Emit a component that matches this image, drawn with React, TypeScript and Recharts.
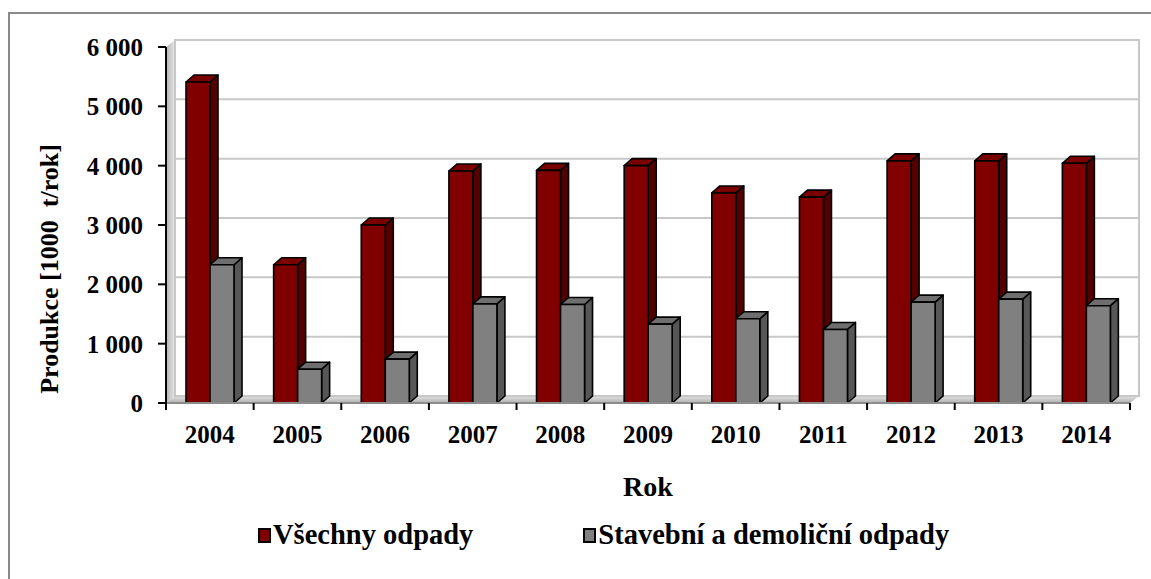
import {
  BarChart,
  Bar,
  XAxis,
  YAxis,
  CartesianGrid,
  Legend,
  ReferenceArea,
} from "recharts";

// roky a hodnoty (1000 t/rok)
const years = ["2004", "2005", "2006", "2007", "2008", "2009", "2010", "2011", "2012", "2013", "2014"];
const vsechnyOdpady = [5410, 2330, 3000, 3910, 3920, 4000, 3540, 3470, 4080, 4080, 4040];
const stavebniOdpady = [2330, 570, 740, 1670, 1660, 1330, 1420, 1240, 1700, 1750, 1640];
const yTicks = [0, 1000, 2000, 3000, 4000, 5000, 6000];

const seriesNames = ["Všechny odpady", "Stavební a demoliční odpady"];

const data = years.map((rok, i) => ({
  rok,
  vse: vsechnyOdpady[i],
  stav: stavebniOdpady[i],
}));

const FONT = "'Liberation Serif', 'Times New Roman', serif";

// hloubka 3D efektu
const WALL_DX = 9;
const WALL_DY = 7;
const BAR_DX = 8;
const BAR_DY = 7;

const TICK_SIZE = 7;
const TICK_MARGIN = 15;

const fmt = (v: number) => (v === 0 ? "0" : v.toLocaleString("en-US").replace(",", " "));

function make3DBar(front: string, top: string, side: string) {
  return (props: any) => {
    const { x, y, width, height } = props;
    if (height == null || width == null) return <g />;
    const x2 = x + width;
    const y2 = y + height;
    return (
      <g stroke="#000" strokeWidth={1.6} strokeLinejoin="round">
        <polygon
          points={`${x2},${y} ${x2 + BAR_DX},${y - BAR_DY} ${x2 + BAR_DX},${y2 - BAR_DY} ${x2},${y2}`}
          fill={side}
        />
        <polygon
          points={`${x},${y} ${x + BAR_DX},${y - BAR_DY} ${x2 + BAR_DX},${y - BAR_DY} ${x2},${y}`}
          fill={top}
        />
        <rect x={x} y={y} width={width} height={height} fill={front} />
      </g>
    );
  };
}

const RedBar = make3DBar("#800000", "#7a0000", "#520000");
const GreyBar = make3DBar("#808080", "#6e6e6e", "#575757");

function Walls(props: any) {
  const { x, y, width, height } = props;
  const yb = y + height;
  return (
    <g>
      <defs>
        <linearGradient id="leftWall" x1="0" y1="0" x2="1" y2="0">
          <stop offset="0%" stopColor="#b5b5b5" />
          <stop offset="100%" stopColor="#e6e6e6" />
        </linearGradient>
        <linearGradient id="floor" x1="0" y1="0" x2="0" y2="1">
          <stop offset="0%" stopColor="#e3e3e3" />
          <stop offset="100%" stopColor="#b0b0b0" />
        </linearGradient>
      </defs>
      <polygon
        points={`${x},${y} ${x + WALL_DX},${y - WALL_DY} ${x + WALL_DX},${yb - WALL_DY} ${x},${yb}`}
        fill="url(#leftWall)"
      />
      <polygon
        points={`${x},${yb} ${x + WALL_DX},${yb - WALL_DY} ${x + width + WALL_DX},${yb - WALL_DY} ${x + width},${yb}`}
        fill="url(#floor)"
      />
      <rect
        x={x + WALL_DX}
        y={y - WALL_DY}
        width={width}
        height={height}
        fill="none"
        stroke="#c8c8c8"
        strokeWidth={2}
      />
    </g>
  );
}

function GridLine(props: any) {
  const { x1, x2, y1 } = props;
  return (
    <line
      x1={x1 + WALL_DX}
      x2={x2 + WALL_DX}
      y1={y1 - WALL_DY}
      y2={y1 - WALL_DY}
      stroke="#c8c8c8"
      strokeWidth={2}
    />
  );
}

// popisek roku + značky mezi kategoriemi (jako v Excelu)
function YearTick(props: any) {
  const { x, y, payload, index, visibleTicksCount } = props;
  const off = payload.offset || 0;
  const last = index === visibleTicksCount - 1;
  const t0 = y - TICK_SIZE - TICK_MARGIN;
  return (
    <g>
      <line x1={x - off} x2={x - off} y1={t0} y2={t0 + TICK_SIZE} stroke="#000" strokeWidth={2} />
      {last && (
        <line x1={x + off} x2={x + off} y1={t0} y2={t0 + TICK_SIZE} stroke="#000" strokeWidth={2} />
      )}
      <text
        x={x}
        y={y}
        dy="0.71em"
        textAnchor="middle"
        fontFamily={FONT}
        fontWeight="bold"
        fontSize={25}
        fill="#000"
      >
        {payload.value}
      </text>
    </g>
  );
}

function LegendBox() {
  const colors = ["#800000", "#808080"];
  return (
    <div
      style={{
        display: "flex",
        justifyContent: "flex-start",
        alignItems: "center",
        gap: 110,
        fontFamily: FONT,
        fontWeight: "bold",
        fontSize: 28.5,
        color: "#000",
        paddingLeft: 258,
        lineHeight: "32px",
      }}
    >
      {seriesNames.map((name, i) => (
        <div key={name} style={{ display: "flex", alignItems: "center" }}>
          <span
            style={{
              display: "inline-block",
              width: 9,
              height: 11,
              background: colors[i],
              border: "2px solid #000",
              marginRight: 2,
            }}
          />
          <span>{name}</span>
        </div>
      ))}
    </div>
  );
}

export default function App() {
  return (
    <div style={{ position: "absolute", left: 0, top: 0, width: 1151, height: 579, background: "#fff" }}>
      <div
        style={{
          position: "absolute",
          left: 8,
          top: 12,
          width: 1143,
          height: 567,
          borderLeft: "2px solid #8a8a8a",
          borderTop: "2px solid #8a8a8a",
          boxSizing: "border-box",
        }}
      />
      <div style={{ position: "absolute", left: 0, top: 0 }}>
        <BarChart
          width={1151}
          height={579}
          data={data}
          margin={{ top: 47, right: 21, left: 0, bottom: 146 }}
          barSize={24}
          barGap={0}
        >
          <CartesianGrid vertical={false} horizontal={GridLine as any} />
          <ReferenceArea y1={0} y2={6000} shape={Walls} ifOverflow="visible" />
          <XAxis
            dataKey="rok"
            height={30}
            axisLine={{ stroke: "#8c8c8c", strokeWidth: 2 }}
            tickLine={false}
            tickSize={TICK_SIZE}
            tickMargin={TICK_MARGIN}
            tick={YearTick}
            interval={0}
            label={{
              value: "Rok",
              position: "bottom",
              offset: 43,
              fontFamily: FONT,
              fontWeight: "bold",
              fontSize: 28,
              fill: "#000",
            }}
          />
          <YAxis
            width={166}
            domain={[0, 6000]}
            ticks={yTicks}
            interval={0}
            tickFormatter={fmt}
            axisLine={{ stroke: "#000", strokeWidth: 2 }}
            tickLine={{ stroke: "#000", strokeWidth: 2 }}
            tickSize={8}
            tickMargin={15}
            tick={{ fontFamily: FONT, fontWeight: "bold", fontSize: 25, fill: "#000" }}
            label={{
              value: "Produkce [1000\u00a0 t/rok]",
              angle: -90,
              position: "center",
              dx: -34,
              dy: 44,
              fontFamily: FONT,
              fontWeight: "bold",
              fontSize: 26,
              fill: "#000",
            }}
          />
          <Legend
            verticalAlign="middle"
            align="center"
            layout="horizontal"
            content={<LegendBox />}
            wrapperStyle={{ top: 519, left: 0, width: 1151 }}
          />
          <Bar dataKey="vse" name={seriesNames[0]} shape={RedBar} isAnimationActive={false} />
          <Bar dataKey="stav" name={seriesNames[1]} shape={GreyBar} isAnimationActive={false} />
        </BarChart>
      </div>
    </div>
  );
}
